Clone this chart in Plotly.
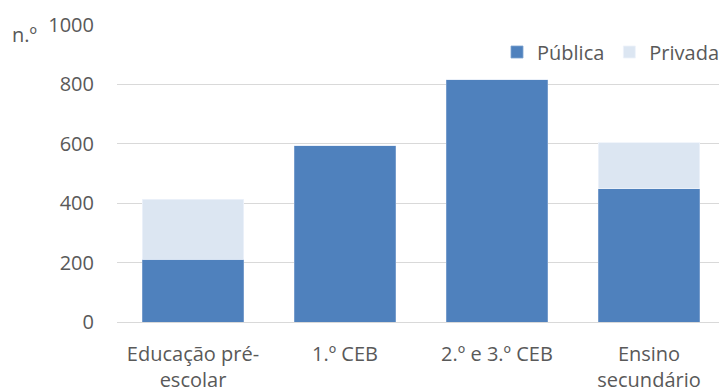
import plotly.graph_objects as go

categories = ["Educação pré-<br>escolar", "1.º CEB", "2.º e 3.º CEB", "Ensino<br>secundário"]
publica = [212, 593, 815, 448]
privada = [202, 0, 0, 155]

font_family = "Open Sans, Noto Sans, sans-serif"
grey = "#595959"
fs = 20

W, H = 719, 384
L, R, T, B = 109, 2, 17, 70
pw, ph = W - L - R, H - T - B

fig = go.Figure()
fig.add_trace(go.Bar(x=categories, y=publica, name="Pública",
                     marker=dict(color="#4F81BD", line=dict(color="#7fa3d0", width=0.8))))
fig.add_trace(go.Bar(x=categories, y=privada, name="Privada",
                     marker=dict(color="#DCE6F2", line=dict(color="#eef3fa", width=0.8))))

fig.update_layout(
    barmode="stack",
    bargap=0.335,
    width=W, height=H,
    margin=dict(l=L, r=R, t=T, b=B, autoexpand=False),
    paper_bgcolor="white", plot_bgcolor="white",
    font=dict(family=font_family, size=fs, color=grey),
    legend=dict(orientation="h", x=1.0, xanchor="right",
                y=1 - (44 - T) / ph, yanchor="middle",
                font=dict(size=fs, color=grey), traceorder="normal",
                bgcolor="rgba(0,0,0,0)", itemwidth=30, tracegroupgap=0),
    showlegend=True,
    yaxis=dict(range=[0, 1000], tickvals=[0, 200, 400, 600, 800, 1000],
               showgrid=True, gridcolor="#d9d9d9", gridwidth=1, zeroline=False,
               ticks="", ticklabelstandoff=22, tickfont=dict(size=fs, color=grey)),
    xaxis=dict(showline=True, linecolor="#d9d9d9", linewidth=1, ticks="",
               ticklabelstandoff=14, tickfont=dict(size=fs, color=grey)),
    annotations=[dict(text="n.º", x=(2 - L) / pw, xanchor="left",
                      y=1 - (27 - T) / ph, yanchor="middle",
                      xref="paper", yref="paper",
                      showarrow=False, font=dict(size=fs, color=grey))],
)

fig.write_html("out.html")
